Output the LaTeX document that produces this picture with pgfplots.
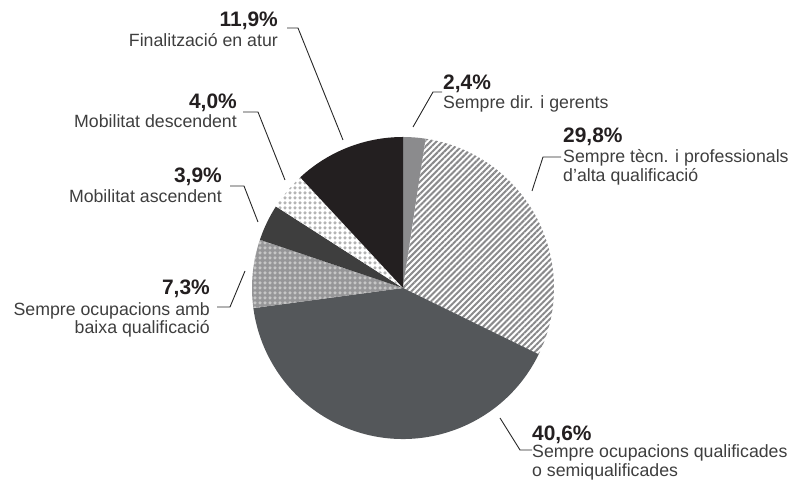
\documentclass[border=0pt]{standalone}
\usepackage{fontspec}
\setmainfont{Liberation Sans}
\usepackage{pgfplots}
\pgfplotsset{compat=1.18}
\usepackage{pgfplotstable}
\usetikzlibrary{patterns.meta}

\definecolor{txt}{RGB}{62,62,62}
\definecolor{pct}{RGB}{35,31,32}
\definecolor{leader}{RGB}{40,40,40}
\definecolor{sgrey}{RGB}{139,139,141}
\definecolor{hatch}{RGB}{138,138,140}
\definecolor{sdark}{RGB}{84,87,90}
\definecolor{dotbg}{RGB}{150,150,152}
\definecolor{dotfg}{RGB}{198,198,198}
\definecolor{sdark2}{RGB}{62,62,62}
\definecolor{dotfg2}{RGB}{180,180,180}
\definecolor{sblack}{RGB}{35,31,32}

\tikzset{
  slice0/.style={fill=sgrey},
  slice1/.style={fill=white,postaction={pattern={Lines[angle=45,distance=4.2bp,line width=2bp]},pattern color=hatch}},
  slice2/.style={fill=sdark},
  slice3/.style={fill=dotbg,postaction={pattern={Dots[distance=5bp,radius=1.75bp]},pattern color=dotfg}},
  slice4/.style={fill=sdark2},
  slice5/.style={fill=white,postaction={pattern={Dots[distance=5bp,radius=1.75bp]},pattern color=dotfg2}},
  slice6/.style={fill=sblack},
  pctlab/.style={inner sep=0pt,text=pct,font=\fontsize{21}{24}\selectfont\bfseries},
  txtlab/.style={inner sep=0pt,text=txt,font=\fontsize{17.8}{20}\selectfont},
  lead/.style={draw=leader,line width=0.9bp},
}

% Shares of each trajectory (%), clockwise from 12 o'clock
\pgfplotstableread[col sep=comma]{
share,trajectory
2.4,Sempre dir. i gerents
29.8,Sempre tecn. i professionals
40.6,Sempre ocupacions qualificades
7.3,Sempre ocupacions amb baixa qualificacio
3.9,Mobilitat ascendent
4.0,Mobilitat descendent
11.9,Finalitzacio en atur
}\sharetable

\begin{document}
\begin{tikzpicture}
\begin{axis}[
  x=1bp, y=1bp,
  xmin=0, xmax=795, ymin=0, ymax=483,
  hide axis, clip=false,
]
\coordinate (BL) at (axis cs:0,0);
\coordinate (TR) at (axis cs:795,483);

\pgfplotsextra{%
  \gdef\sharetotal{0}%
  \foreach \i in {0,...,6}{%
    \pgfplotstablegetelem{\i}{share}\of\sharetable
    \pgfmathsetmacro\tmp{\sharetotal+\pgfplotsretval}%
    \xdef\sharetotal{\tmp}%
  }%
  \pgfmathsetmacro\degper{360/\sharetotal}%
  \xdef\degper{\degper}%
  \gdef\cumshare{0}%
  \foreach \i in {0,...,6}{%
    \pgfplotstablegetelem{\i}{share}\of\sharetable
    \let\s\pgfplotsretval
    \pgfmathsetmacro\angA{90-\degper*\cumshare}%
    \pgfmathsetmacro\angB{90-\degper*(\cumshare+\s)}%
    \fill[slice\i] (axis cs:403,195) -- ++(\angA:151bp)
      arc[start angle=\angA, end angle=\angB, radius=151bp] -- cycle;
    \pgfmathsetmacro\tmp{\cumshare+\s}%
    \xdef\cumshare{\tmp}%
  }%
}

% leader lines
\draw[lead] (axis cs:343,343) -- (axis cs:298,455) -- (axis cs:287,455);
\draw[lead] (axis cs:285,303) -- (axis cs:258,371) -- (axis cs:243,371);
\draw[lead] (axis cs:258,261) -- (axis cs:244,297) -- (axis cs:230,297);
\draw[lead] (axis cs:245,212) -- (axis cs:230,176) -- (axis cs:217,176);
\draw[lead] (axis cs:500,65) -- (axis cs:520,33) -- (axis cs:532,33);
\draw[lead] (axis cs:413,356) -- (axis cs:433,391) -- (axis cs:442,391);
\draw[lead] (axis cs:532,292) -- (axis cs:543,326) -- (axis cs:561,326);

% labels
\node[pctlab,anchor=base east] at (axis cs:278,456) {11,9\%};
\node[txtlab,anchor=base east] at (axis cs:278,436) {Finalització en atur};

\node[pctlab,anchor=base east] at (axis cs:237,374) {4,0\%};
\node[txtlab,anchor=base east] at (axis cs:237,355) {Mobilitat descendent};

\node[pctlab,anchor=base east] at (axis cs:222,300) {3,9\%};
\node[txtlab,anchor=base east] at (axis cs:222,280) {Mobilitat ascendent};

\node[pctlab,anchor=base east] at (axis cs:210,188) {7,3\%};
\node[txtlab,anchor=base east] at (axis cs:210,167) {Sempre ocupacions amb};
\node[txtlab,anchor=base east] at (axis cs:210,149) {baixa qualificació};

\node[pctlab,anchor=base west] at (axis cs:532,42) {40,6\%};
\node[txtlab,anchor=base west] at (axis cs:532,25) {Sempre ocupacions qualificades};
\node[txtlab,anchor=base west] at (axis cs:532,6) {o semiqualificades};

\node[pctlab,anchor=base west] at (axis cs:443,393) {2,4\%};
\node[txtlab,anchor=base west] at (axis cs:443,374) {Sempre dir. i gerents};

\node[pctlab,anchor=base west] at (axis cs:563,340) {29,8\%};
\node[txtlab,anchor=base west] at (axis cs:563,320) {Sempre tècn. i professionals};
\node[txtlab,anchor=base west] at (axis cs:563,301) {d’alta qualificació};
\end{axis}
\pgfresetboundingbox
\useasboundingbox (BL) rectangle (TR);
\end{tikzpicture}
\end{document}
